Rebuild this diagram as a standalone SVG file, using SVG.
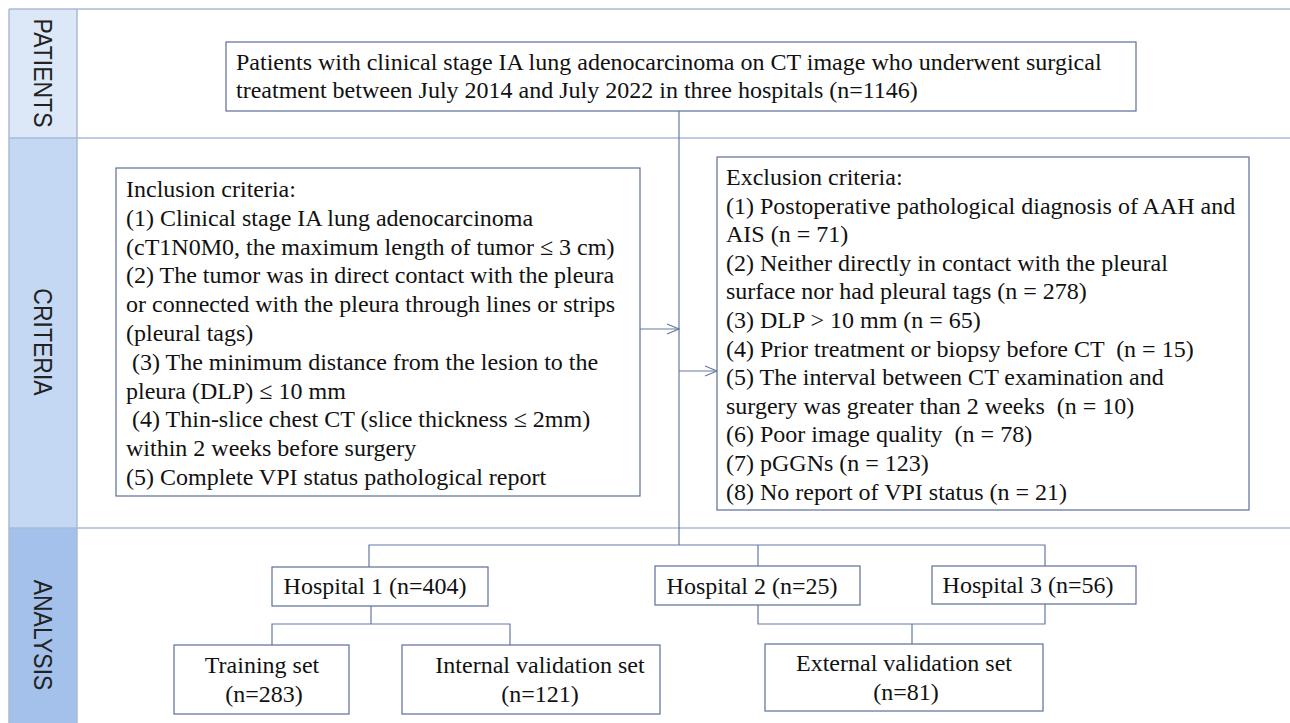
<svg xmlns="http://www.w3.org/2000/svg" width="1290" height="723" viewBox="0 0 1290 723">
<style>
.box{fill:#ffffff;stroke:#5b6f98;stroke-width:1.2}
.t{font-family:"Liberation Serif","Times New Roman",serif;font-size:24px;fill:#111;white-space:pre}
.c{text-anchor:middle}
.lab{font-family:"Liberation Sans",Arial,sans-serif;font-size:23px;fill:#222}
.ln{fill:none;stroke:#6479a3;stroke-width:1.2}
.sep{stroke:#a9bad6;stroke-width:1.5}
</style>
<defs>
<marker id="arr" markerWidth="14" markerHeight="12" refX="13" refY="6" orient="auto" markerUnits="userSpaceOnUse">
<path d="M1,1 L13,6 L1,11" fill="none" stroke="#6479a3" stroke-width="1.1"/>
</marker>
</defs>
<rect x="0" y="0" width="1290" height="723" fill="#ffffff"/>
<g id="bands">
<rect x="9" y="9" width="68" height="129" fill="#dce7f7"/>
<rect x="9" y="138" width="68" height="390" fill="#c4d8f3"/>
<rect x="9" y="528" width="68" height="195" fill="#a3c1ea"/>
<line x1="9" y1="9" x2="1290" y2="9" class="sep"/>
<line x1="9" y1="138" x2="1290" y2="138" class="sep"/>
<line x1="9" y1="528" x2="1290" y2="528" class="sep"/>
<line x1="77" y1="9" x2="77" y2="723" class="sep"/>
<line x1="9" y1="9" x2="9" y2="723" class="sep"/>
<text class="lab" transform="translate(34,73) rotate(90) scale(1,1.15)" text-anchor="middle">PATIENTS</text>
<text class="lab" transform="translate(34,342) rotate(90) scale(1,1.15)" text-anchor="middle">CRITERIA</text>
<text class="lab" transform="translate(34,635) rotate(90) scale(1,1.15)" text-anchor="middle">ANALYSIS</text>
</g>
<g id="connectors">
<line class="ln" x1="679" y1="111" x2="679" y2="545"/>
<line class="ln" x1="640" y1="329" x2="679" y2="329" marker-end="url(#arr)"/>
<line class="ln" x1="679" y1="371" x2="717" y2="371" marker-end="url(#arr)"/>
<polyline class="ln" points="369,567 369,545 1045,545 1045,566"/>
<line class="ln" x1="758" y1="545" x2="758" y2="566"/>
<polyline class="ln" points="272,645 272,624 510,624 510,645"/>
<line class="ln" x1="371" y1="606" x2="371" y2="624"/>
<polyline class="ln" points="758,605 758,624 1045,624 1045,604"/>
<line class="ln" x1="912" y1="624" x2="912" y2="644"/>
</g>
<g id="n-patients">
<rect class="box" x="226" y="42" width="910" height="69"/>
<text class="t" x="236" y="70">Patients with clinical stage IA lung adenocarcinoma on CT image who underwent surgical</text>
<text class="t" x="236" y="98">treatment between July 2014 and July 2022 in three hospitals (n=1146)</text>
</g>
<g id="n-inclusion">
<rect class="box" x="116" y="168" width="524" height="328"/>
<text class="t"><tspan x="126" y="197">Inclusion criteria:</tspan><tspan x="126" y="225.8">(1) Clinical stage IA lung adenocarcinoma</tspan><tspan x="126" y="254.6">(cT1N0M0, the maximum length of tumor ≤ 3 cm)</tspan><tspan x="126" y="283.4">(2) The tumor was in direct contact with the pleura</tspan><tspan x="126" y="312.2">or connected with the pleura through lines or strips</tspan><tspan x="126" y="341">(pleural tags)</tspan><tspan x="126" y="369.8"> (3) The minimum distance from the lesion to the</tspan><tspan x="126" y="398.6">pleura (DLP) ≤ 10 mm</tspan><tspan x="126" y="427.4"> (4) Thin-slice chest CT (slice thickness ≤ 2mm)</tspan><tspan x="126" y="456.2">within 2 weeks before surgery</tspan><tspan x="126" y="485">(5) Complete VPI status pathological report</tspan></text>
</g>
<g id="n-exclusion">
<rect class="box" x="717" y="157" width="532" height="353"/>
<text class="t"><tspan x="726" y="185">Exclusion criteria:</tspan><tspan x="726" y="213.6">(1) Postoperative pathological diagnosis of AAH and</tspan><tspan x="726" y="242.2">AIS (n = 71)</tspan><tspan x="726" y="270.8">(2) Neither directly in contact with the pleural</tspan><tspan x="726" y="299.4">surface nor had pleural tags (n = 278)</tspan><tspan x="726" y="328">(3) DLP &gt; 10 mm (n = 65)</tspan><tspan x="726" y="356.6">(4) Prior treatment or biopsy before CT  (n = 15)</tspan><tspan x="726" y="385.2">(5) The interval between CT examination and</tspan><tspan x="726" y="413.8">surgery was greater than 2 weeks  (n = 10)</tspan><tspan x="726" y="442.4">(6) Poor image quality  (n = 78)</tspan><tspan x="726" y="471">(7) pGGNs (n = 123)</tspan><tspan x="726" y="499.6">(8) No report of VPI status (n = 21)</tspan></text>
</g>
<g id="n-h1">
<rect class="box" x="272" y="567" width="216" height="39"/>
<text class="t c" x="375" y="594">Hospital 1 (n=404)</text>
</g>
<g id="n-h2">
<rect class="box" x="655" y="566" width="205" height="39"/>
<text class="t c" x="752" y="594">Hospital 2 (n=25)</text>
</g>
<g id="n-h3">
<rect class="box" x="932" y="566" width="204" height="38"/>
<text class="t c" x="1028" y="593">Hospital 3 (n=56)</text>
</g>
<g id="n-train">
<rect class="box" x="174" y="645" width="175" height="69"/>
<text class="t c" x="262" y="673">Training set</text>
<text class="t c" x="264" y="702">(n=283)</text>
</g>
<g id="n-internal">
<rect class="box" x="402" y="645" width="258" height="69"/>
<text class="t c" x="540" y="673">Internal validation set</text>
<text class="t c" x="540" y="702">(n=121)</text>
</g>
<g id="n-external">
<rect class="box" x="765" y="644" width="278" height="67"/>
<text class="t c" x="904" y="671">External validation set</text>
<text class="t c" x="906" y="700">(n=81)</text>
</g>
</svg>
